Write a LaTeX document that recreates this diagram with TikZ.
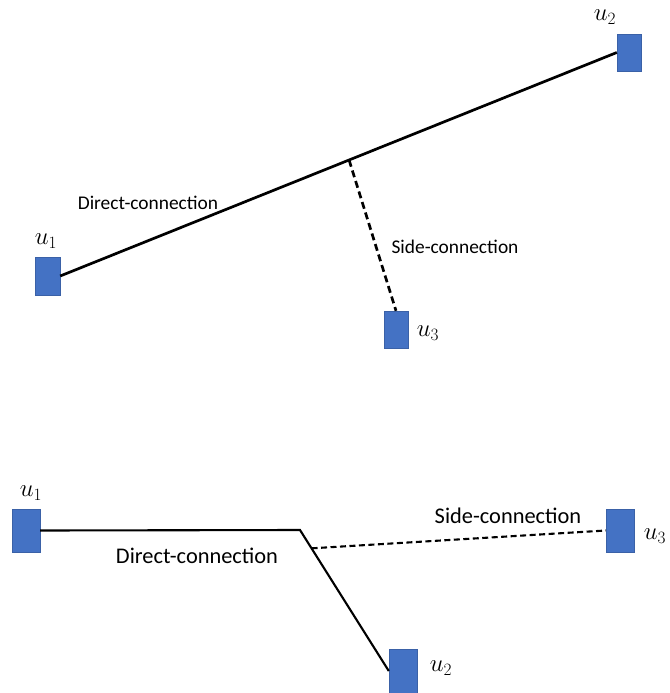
\documentclass[tikz,border=0pt]{standalone}
\usepackage{fontspec}
\setmainfont{Carlito}
\usetikzlibrary{calc}
\definecolor{boxblue}{HTML}{4472C4}
\tikzset{
  ubox/.style={fill=boxblue, draw=boxblue!85!black, line width=0.4pt, inner sep=0pt, minimum width=#1},
  ubox/.default=25pt,
  conn/.style={line width=2.7pt},
  sideconn/.style={line width=2.7pt, dash pattern=on 7pt off 4pt},
  connb/.style={line width=2.1pt},
  sideconnb/.style={line width=2.1pt, dash pattern=on 6pt off 3.5pt},
  lbl/.style={inner sep=0pt, font=\fontsize{19.4}{23}\selectfont},
  lblb/.style={inner sep=0pt, font=\fontsize{22.4}{26}\selectfont},
  mlbl/.style={inner sep=0pt, font=\fontsize{23}{27}\selectfont},
  mlblb/.style={inner sep=0pt, font=\fontsize{27}{31}\selectfont}
}
\begin{document}
\begin{tikzpicture}[x=1pt,y=-1pt]
\useasboundingbox (0,0) rectangle (669,693);
% ---- top diagram ----
\node[ubox=25pt, minimum height=38pt] (a1) at (47.5,276) {};
\node[ubox=24pt, minimum height=37pt] (a2) at (629,52.5) {};
\node[ubox=24pt, minimum height=37pt] (a3) at (396,329.5) {};
\node[mlbl] (la1) at (46,241) {$u_1$};
\node[mlbl] (la2) at (605,17) {$u_2$};
\node[mlbl] (la3) at (428,333) {$u_3$};
\draw[conn] (a1.east) -- (a2.west);
\coordinate (ja) at ($(a1.east)!0.519!(a2.west)$);
\draw[sideconn] (ja) -- (a3.north);
\node[lbl] (ta1) at (148,203) {Direct-connection};
\node[lbl] (ta2) at (455,247) {Side-connection};
% ---- bottom diagram ----
\node[ubox=28pt, minimum height=43pt] (b1) at (26,530.5) {};
\node[ubox=28pt, minimum height=44pt] (b2) at (403,671) {};
\node[ubox=28pt, minimum height=43pt] (b3) at (620,530.5) {};
\node[mlblb] (lb1) at (31,493) {$u_1$};
\node[mlblb] (lb2) at (441,668) {$u_2$};
\node[mlblb] (lb3) at (655,536) {$u_3$};
\coordinate (bend) at (300,530);
\draw[connb] (b1.east) -- (bend) -- (b2.west);
\coordinate (jb) at ($(bend)!0.13!(b2.west)$);
\draw[sideconnb] (jb) -- (b3.west);
\node[lblb] (tb1) at (197,556) {Direct-connection};
\node[lblb] (tb2) at (508,516) {Side-connection};
\end{tikzpicture}
\end{document}
